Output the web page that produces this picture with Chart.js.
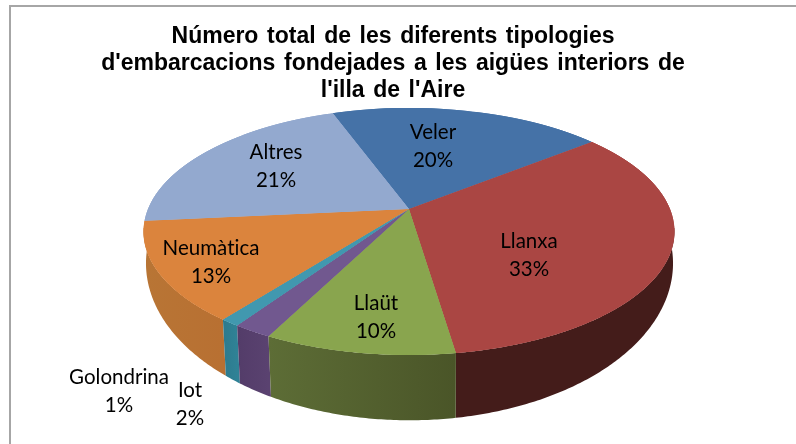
<!DOCTYPE html>
<html>
<head>
<meta charset="utf-8">
<style>html,body{margin:0;padding:0;background:#fff;overflow:hidden}canvas{display:block}</style>
<script src="https://cdn.jsdelivr.net/npm/chart.js@4"></script>
</head>
<body>
<canvas id="c" width="796" height="444"></canvas>
<script>
const categories = ['Veler','Llanxa','Llaüt','Iot','Golondrina','Neumàtica','Altres'];
const shares = [19.8,33.4,9.8,2,1,13,21];
const topColors = ['#4572A7','#AA4643','#89A54E','#71588F','#4198AF','#DB843D','#93A9CF'];
const wallStartColors = ['#2f4f75','#441c1a','#4a5528','#5a4270','#2f8296','#b87032','#66768f'];
const wallEndColors   = ['#2f4f75','#441c1a','#5d6d36','#533c69','#2d7a8d','#b87535','#66768f'];
const titleLines = ['Número total de les diferents tipologies',"d'embarcacions fondejades a les aigües interiors de","l'illa de l'Aire"];
const labelX = [433,529,376,190,119,211,276];
const labelY = [139,248,310,397,384,255,159];

const topDisc = {cx:409, cy:209, a:119.4, b:261, k:-0.182};
const lowDisc = {cx:409.5, cy:236, a:152.2, b:259.5, k:-0.174};
const wallClipTop = 228;

function project(d,u,v){
  const s = 1/(1+d.k*v);
  return [d.cx + d.b*u*s, d.cy + d.a*v*s];
}

const pie3d = {
  id:'pie3d',
  beforeDraw(chart){
    const ctx=chart.ctx;
    ctx.save();
    ctx.fillStyle='#fff';
    ctx.fillRect(0,0,chart.width,chart.height);
    ctx.strokeStyle='#a6a6a6';
    ctx.lineWidth=2;
    ctx.strokeRect(10,6,chart.width+20,chart.height+20);
    ctx.restore();
    ctx.wordSpacing='2.2px';
  },
  beforeDatasetsDraw(chart){
    const ctx=chart.ctx, arcs=chart.getDatasetMeta(0).data;
    ctx.wordSpacing='0px';
    // side wall of each slice, back to front
    const order=arcs.map((arc,i)=>i).sort((p,q)=>
      Math.sin((arcs[p].startAngle+arcs[p].endAngle)/2)-Math.sin((arcs[q].startAngle+arcs[q].endAngle)/2));
    ctx.save();
    ctx.beginPath();ctx.rect(0,wallClipTop,chart.width,chart.height);ctx.clip();
    order.forEach(i=>{
      const arc=arcs[i],a0=arc.startAngle,a1=arc.endAngle,n=Math.ceil((a1-a0)/0.01);
      const upper=[],lower=[];
      for(let j=0;j<=n;j++){
        const t=a0+(a1-a0)*j/n;
        upper.push(project(topDisc,Math.cos(t),Math.sin(t)));
        lower.push(project(lowDisc,Math.cos(t),Math.sin(t)));
      }
      const g=ctx.createLinearGradient(upper[0][0],0,upper[n][0]+0.01,0);
      g.addColorStop(0,wallStartColors[i]);g.addColorStop(1,wallEndColors[i]);
      ctx.beginPath();
      upper.forEach((p,j)=>j?ctx.lineTo(p[0],p[1]):ctx.moveTo(p[0],p[1]));
      lower.reverse().forEach(p=>ctx.lineTo(p[0],p[1]));
      ctx.closePath();
      ctx.fillStyle=g;ctx.fill();
    });
    ctx.restore();
    // top face: one perspective-corrected row at a time
    const d=topDisc,X=arcs[0].x,Y=arcs[0].y,R=arcs[0].outerRadius;
    const yTop=Math.floor(d.cy-d.a/(1-d.k))-1, yBot=Math.ceil(d.cy+d.a/(1+d.k))+1;
    for(let y=yTop;y<=yBot;y++){
      const dy=y+0.5-d.cy, v=dy/(d.a-d.k*dy), s=1/(1+d.k*v);
      const A=d.b*s/R, D=d.a*s*s/R;
      ctx.save();
      ctx.beginPath();ctx.rect(0,y,chart.width,1);ctx.clip();
      ctx.transform(A,0,0,D,d.cx-A*X,y+0.5-D*(Y+v*R));
      for(let pass=0;pass<2;pass++) arcs.forEach(arc=>arc.draw(ctx));
      ctx.restore();
    }
    return false;
  },
  afterDraw(chart){
    const ctx=chart.ctx;
    ctx.save();
    ctx.wordSpacing='0px';
    ctx.textRendering='optimizeSpeed';
    ctx.fillStyle='#000';
    ctx.font='20.5px Lato';
    ctx.textAlign='center';
    ctx.textBaseline='alphabetic';
    categories.forEach((c,i)=>{
      ctx.fillText(c,labelX[i],labelY[i]);
      ctx.fillText(Math.round(shares[i])+'%',labelX[i],labelY[i]+27.5);
    });
    ctx.restore();
  }
};

new Chart(document.getElementById('c'),{
  type:'pie',
  data:{labels:categories,datasets:[{data:shares,backgroundColor:topColors,borderWidth:0}]},
  plugins:[pie3d],
  options:{
    responsive:false,animation:false,rotation:-20,
    layout:{padding:{left:0,right:10,top:0,bottom:0}},
    plugins:{
      legend:{display:false},tooltip:{enabled:false},
      title:{display:true,text:titleLines,color:'#000',
        font:{family:'"Liberation Sans"',size:23,weight:'bold',lineHeight:1.174},
        padding:{top:23.5,bottom:0}}
    }
  }
});
</script>
</body>
</html>
